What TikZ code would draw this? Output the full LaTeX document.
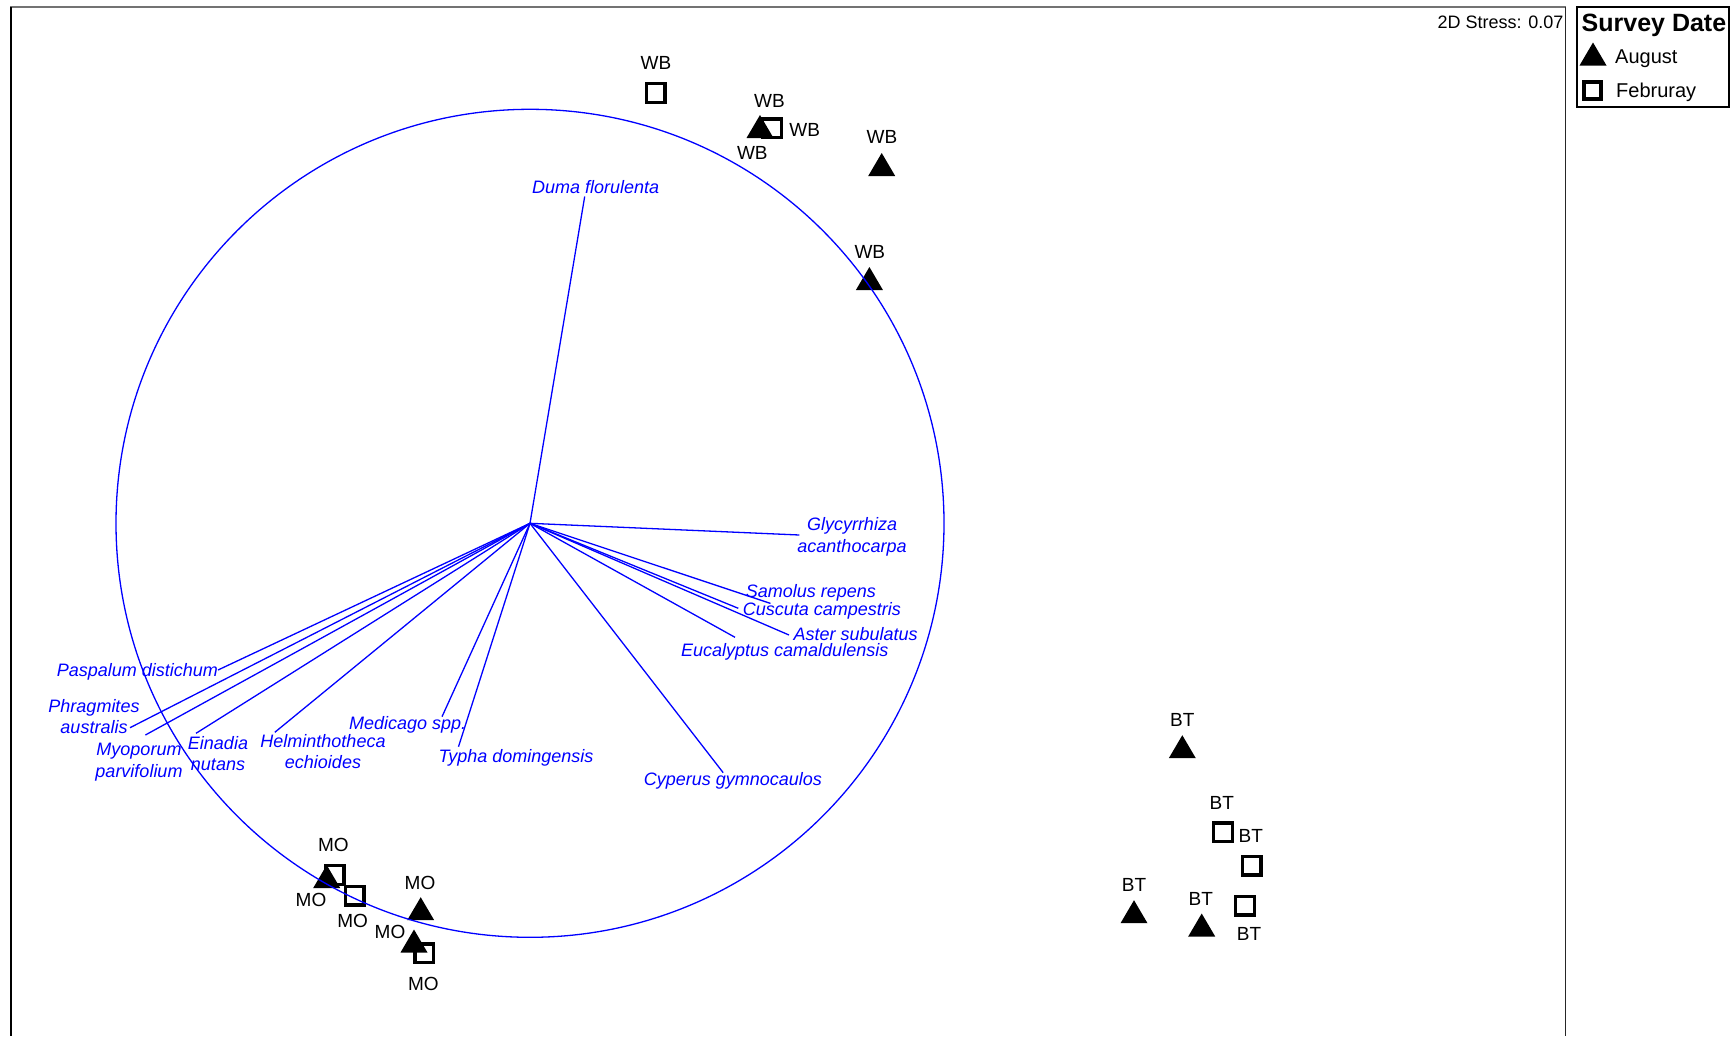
\documentclass[tikz,border=0pt]{standalone}
\usepackage{fontspec}
\setmainfont{Liberation Sans}
\definecolor{vblue}{RGB}{0,0,255}
\definecolor{framegray}{gray}{0.45}
\begin{document}
\begin{tikzpicture}[x=1pt,y=-1pt,
  site/.style={font=\fontsize{19}{21}\selectfont, anchor=base, inner sep=0pt},
  spp/.style={font=\fontsize{18}{20}\selectfont\itshape, text=vblue, anchor=base west, inner sep=0pt},
  sppc/.style={spp, anchor=base},
  legtxt/.style={font=\fontsize{20}{22}\selectfont, anchor=base west, inner sep=0pt},
  vec/.style={draw=vblue, line width=1.3pt},
  augtri/.pic={\fill[black] (-13.5,11.5) -- (0,-11.5) -- (13.5,11.5) -- cycle;},
  febsq/.pic={\filldraw[draw=black, fill=white, line width=3.4pt] (-9.3,-9.3) rectangle (9.3,9.3);}
]
\useasboundingbox (0,0) rectangle (1736,1036);

% plot frame and legend box
\draw[line width=2pt, framegray] (10,7) -- (1566,7);
\draw[line width=1.5pt, black] (11,7) -- (11,1036);
\draw[line width=1.5pt, black!85] (1565.5,7) -- (1565.5,1036);
\draw[line width=1.5pt, black] (1577,7) rectangle (1729,107);

\node[font=\fontsize{18}{20}\selectfont, anchor=base east, inner sep=0pt] (stress) at (1563.5,28.5) {2D Stress: 0.07};

% legend
\node[font=\bfseries\fontsize{25}{28}\selectfont, anchor=base west, inner sep=0pt] (legtitle) at (1581.5,31) {Survey Date};
\pic at (1593,54) {augtri};
\draw[line width=3.5pt, fill=white] (1583.8,81.8) rectangle (1600.8,98.8);
\node[legtxt] (legaug) at (1615,63) {August};
\node[legtxt] (legfeb) at (1616,97) {Februray};

% February samples
\foreach \p in {(655.5,93),(772,128.3),(1223,832.3),(1251.7,865.7),(1245,905.7),(334.8,875),(354.7,895.5),(424.2,953.3)}
  \pic at \p {febsq};
% August samples
\foreach \p in {(760,126.5),(881.7,164.5),(869.4,278.5),(1182.3,746.7),(1134,911.7),(1201.7,925),(326.7,876.5),(420.7,908.7),(414,941)}
  \pic at \p {augtri};

% sample labels
\node[site] (wb1) at (656,69.5) {WB};
\node[site] (wb2) at (769.5,107.8) {WB};
\node[site] (wb3) at (804.7,136.3) {WB};
\node[site] (wb4) at (752.3,159.8) {WB};
\node[site] (wb5) at (882,143.5) {WB};
\node[site] (wb6) at (869.8,258.5) {WB};
\node[site] (bt1) at (1182.3,726.8) {BT};
\node[site] (bt2) at (1221.7,809) {BT};
\node[site] (bt3) at (1250.7,842.5) {BT};
\node[site] (bt4) at (1249,940.8) {BT};
\node[site] (bt5) at (1134,891.8) {BT};
\node[site] (bt6) at (1200.7,905) {BT};
\node[site] (mo1) at (333.3,851.8) {MO};
\node[site] (mo2) at (311,906) {MO};
\node[site] (mo3) at (352.7,927.5) {MO};
\node[site] (mo4) at (420,889.5) {MO};
\node[site] (mo5) at (390,938.5) {MO};
\node[site] (mo6) at (423.3,990.8) {MO};

% species correlation vectors
\coordinate (O) at (530,523.3);
\coordinate (vDuma) at (584.7,196.5);
\coordinate (vGly) at (799.3,535);
\coordinate (vSam) at (770.5,603.4);
\coordinate (vCus) at (738.3,608.3);
\coordinate (vAst) at (789,635);
\coordinate (vEuc) at (735,637.3);
\coordinate (vCyp) at (723.2,772.7);
\coordinate (vTyp) at (458.5,746.7);
\coordinate (vMed) at (442,716.7);
\coordinate (vHel) at (274.8,732.3);
\coordinate (vEin) at (196,733.3);
\coordinate (vMyo) at (145.4,735);
\coordinate (vPhr) at (130,727.7);
\coordinate (vPas) at (218,670);
\foreach \e in {vDuma,vGly,vSam,vCus,vAst,vEuc,vCyp,vTyp,vMed,vHel,vEin,vMyo,vPhr,vPas}
  \draw[vec] (O) -- (\e);
\draw[vec] (O) circle[radius=414];

% species labels
\node[spp] (duma) at (532,193.3) {Duma florulenta};
\node[sppc] (glyA) at (852,530) {Glycyrrhiza};
\node[sppc] (glyB) at (852,552) {acanthocarpa};
\node[spp] (samolus) at (745.7,597.3) {Samolus repens};
\node[spp] (cuscuta) at (742.7,615) {Cuscuta campestris};
\node[spp] (aster) at (793.3,640) {Aster subulatus};
\node[spp] (eucal) at (681,656.5) {Eucalyptus camaldulensis};
\node[spp] (cyperus) at (643.7,785) {Cyperus gymnocaulos};
\node[spp] (typha) at (438.4,762) {Typha domingensis};
\node[spp] (medicago) at (349,729.3) {Medicago spp.};
\node[sppc] (helA) at (323,747.3) {Helminthotheca};
\node[sppc] (helB) at (323,768.3) {echioides};
\node[sppc] (einA) at (218,749.3) {Einadia};
\node[sppc] (einB) at (218,770) {nutans};
\node[sppc] (myoA) at (139,755) {Myoporum};
\node[sppc] (myoB) at (139,777) {parvifolium};
\node[sppc] (phrA) at (94,712.7) {Phragmites};
\node[sppc] (phrB) at (94,733.5) {australis};
\node[spp] (paspalum) at (56.6,676) {Paspalum distichum};
\end{tikzpicture}
\end{document}
